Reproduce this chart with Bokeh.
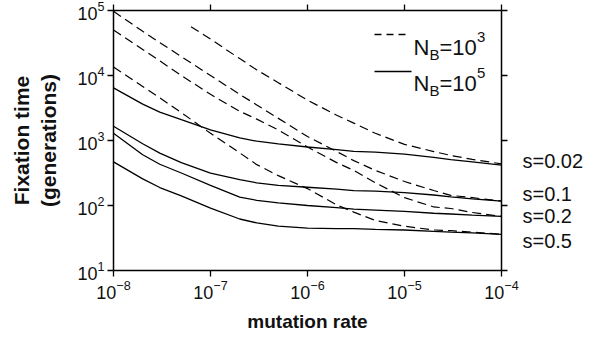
from bokeh.plotting import figure
from bokeh.models import LogAxis, Label, Arrow, CustomJSTickFormatter, FixedTicker, Range1d
from bokeh.embed import file_html
from bokeh.resources import INLINE

# ---- data ----
mu_grid = [1e-8, 2e-8, 3e-8, 5e-8, 1e-7, 2e-7, 3e-7, 5e-7, 1e-6,
           2e-6, 3e-6, 5e-6, 1e-5, 2e-5, 3e-5, 5e-5, 1e-4]

# N_B = 10^5 (solid)
T_solid_s002 = [6460, 3630, 2740, 2090, 1460, 1100, 975, 890, 794, 724, 679, 661, 617, 550, 508, 468, 417]
T_solid_s01 = [1660, 891, 640, 457, 316, 251, 223, 204, 191, 178, 169, 166, 158, 145, 136, 126, 117]
T_solid_s02 = [1290, 603, 431, 316, 204, 135, 120, 110, 100, 93, 88, 85, 81, 76, 74, 71, 68]
T_solid_s05 = [468, 257, 189, 141, 91, 62, 54, 48, 45, 44, 44, 43, 42, 40, 39, 38, 36]

# N_B = 10^3 (dashed)
mu_dashed_s002 = [6.3e-8, 1e-7, 2e-7, 3e-7, 5e-7, 1e-6, 2e-6, 3e-6, 5e-6, 1e-5, 2e-5, 3e-5, 5e-5, 1e-4]
T_dashed_s002 = [56200, 36300, 18200, 12200, 7760, 4170, 2450, 1850, 1290, 871, 676, 589, 513, 437]
T_dashed_s01 = [97000, 47900, 32100, 19500, 10000, 5130, 3530, 2190, 1150, 676, 490, 347, 234, 170, 143, 132, 117]
T_dashed_s02 = [50100, 25100, 16800, 10000, 5130, 2820, 2130, 1450, 794, 457, 347, 224, 132, 95, 90, 78, 68]
T_dashed_s05 = [13500, 6760, 4520, 2690, 1290, 646, 425, 288, 182, 102, 79, 59, 48, 42, 41, 39, 36]

s_labels = ["s=0.5", "s=0.2", "s=0.1", "s=0.02"]
s_label_T = [28.9, 67.8, 150, 492]   # vertical positions of the right-hand labels
x_ticks = [1e-8, 1e-7, 1e-6, 1e-5, 1e-4]
y_ticks = [1e1, 1e2, 1e3, 1e4, 1e5]

FONT = "Liberation Sans"
INK = "#111111"

p = figure(width=610, height=339, x_axis_type="log", y_axis_type="log",
           x_range=Range1d(1e-8, 1e-4), y_range=Range1d(10, 1e5),
           output_backend="svg", toolbar_location=None,
           min_border_left=113, min_border_right=109,
           min_border_top=10, min_border_bottom=69)
p.outline_line_color = None
p.xgrid.visible = False
p.ygrid.visible = False
p.background_fill_color = "white"
p.border_fill_color = "white"

p.add_layout(LogAxis(), "right")
p.add_layout(LogAxis(), "above")

bottom_ax = p.below[0]
left_ax = p.left[0]
right_ax = p.right[0]
top_ax = p.above[0]

blank = CustomJSTickFormatter(code="return ''")
for ax in [bottom_ax, top_ax]:
    ax.ticker = FixedTicker(ticks=x_ticks, minor_ticks=[])
for ax in [left_ax, right_ax]:
    ax.ticker = FixedTicker(ticks=y_ticks, minor_ticks=[])
for ax in [bottom_ax, top_ax, left_ax, right_ax]:
    ax.axis_line_color = "black"
    ax.axis_line_width = 1.5
    ax.major_tick_line_color = "black"
    ax.major_tick_line_width = 1.3
    ax.major_tick_out = 6
    ax.major_tick_in = 0
    ax.minor_tick_out = 0
    ax.minor_tick_in = 0
    ax.major_label_text_font = FONT
    ax.major_label_text_font_size = "18px"
    ax.major_label_text_color = INK
    ax.major_label_standoff = 3
    ax.axis_label_text_font = FONT
    ax.axis_label_text_font_style = "bold"
    ax.axis_label_text_color = INK
right_ax.formatter = blank
top_ax.formatter = blank

# axis titles
bottom_ax.axis_label = "mutation rate"
bottom_ax.axis_label_text_font_size = "19px"
bottom_ax.axis_label_standoff = 9
left_ax.axis_label = "Fixation time\n(generations)"
left_ax.axis_label_text_font_size = "21px"
left_ax.axis_label_standoff = 14
left_ax.axis_label_text_line_height = 1.2

# right-hand s labels as an extra tick-less axis
s_axis = LogAxis(ticker=FixedTicker(ticks=s_label_T, minor_ticks=[]),
                 formatter=CustomJSTickFormatter(args=dict(labels=s_labels),
                                                 code="return labels[index]"),
                 axis_line_color=None, major_tick_out=0, major_tick_in=0,
                 minor_tick_out=0, minor_tick_in=0, major_label_standoff=15,
                 major_label_text_font=FONT, major_label_text_font_size="20px",
                 major_label_text_color=INK)
p.add_layout(s_axis, "right")

# curves
for T in [T_solid_s002, T_solid_s01, T_solid_s02, T_solid_s05]:
    p.line(mu_grid, T, line_color="black", line_width=1.3)
p.line(mu_dashed_s002, T_dashed_s002, line_color="black", line_width=1.2, line_dash="9 5")
for T in [T_dashed_s01, T_dashed_s02, T_dashed_s05]:
    p.line(mu_grid, T, line_color="black", line_width=1.2, line_dash="9 5")

def lab(text, x, y, size):
    p.add_layout(Label(text=text, x=x, y=y, x_units="screen", y_units="screen",
                       text_align="left", text_baseline="alphabetic",
                       text_font=FONT, text_font_size=size, text_color=INK))

# legend
p.add_layout(Arrow(end=None, x_start=261, y_start=236, x_end=296, y_end=236,
                   start_units="screen", end_units="screen",
                   line_color="black", line_width=1.3, line_dash="7 5"))
p.add_layout(Arrow(end=None, x_start=261, y_start=199, x_end=298, y_end=199,
                   start_units="screen", end_units="screen",
                   line_color="black", line_width=1.3))
for base, sup in [(222.7, "3"), (187, "5")]:
    lab("N", 300, base, "22px")
    lab("B", 316, base - 6.5, "15px")
    lab("=10", 326, base, "22px")
    lab(sup, 363.5, base + 11, "15px")

open("out.html", "w").write(file_html(p, INLINE))
